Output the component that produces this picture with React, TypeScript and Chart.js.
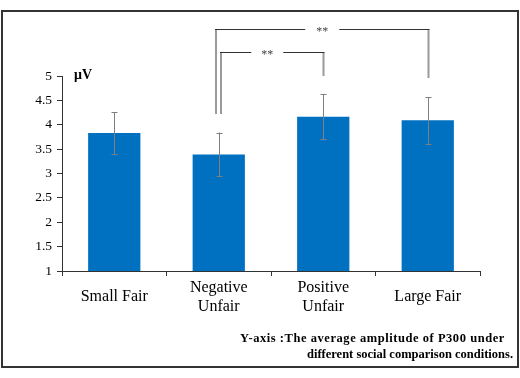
import React, { useEffect, useRef } from "react";
import { Chart, registerables } from "chart.js";

Chart.register(...registerables);

const categories: (string | string[])[] = ["Small Fair", ["Negative", "Unfair"], ["Positive", "Unfair"], "Large Fair"];
const meanAmplitude = [3.83, 3.39, 4.165, 4.09];
const errorValues = [0.43, 0.45, 0.46, 0.48];
const yTickMin = 1;
const yTickMax = 5;
const yTickStep = 0.5;
const yUnit = "μV";
// significance brackets
const bracketFrom = [1, 1];
const bracketTo = [2, 3];
const bracketTop = [5.49, 5.96];
const bracketLeftBottom = [4.22, 4.22];
const bracketRightBottom = [5.0, 4.96];
const bracketLabels = ["**", "**"];
const captionLines = ["Y-axis :The average amplitude of P300 under", "different social comparison conditions."];

const SERIF = '"Liberation Serif", "Times New Roman", serif';

const overlayPlugin = {
  id: "overlay",
  afterDatasetsDraw(chart: any) {
    const { ctx } = chart;
    const x = chart.scales.x;
    const y = chart.scales.y;
    ctx.save();
    // error bars
    ctx.strokeStyle = "#7f7f7f";
    ctx.lineWidth = 1;
    meanAmplitude.forEach((v, i) => {
      const px = Math.round(x.getPixelForValue(i)) + 0.5;
      const top = y.getPixelForValue(v + errorValues[i]);
      const bot = y.getPixelForValue(v - errorValues[i]);
      ctx.beginPath();
      ctx.moveTo(px, top);
      ctx.lineTo(px, bot);
      ctx.moveTo(px - 3, Math.round(top) + 0.5);
      ctx.lineTo(px + 3, Math.round(top) + 0.5);
      ctx.moveTo(px - 3, Math.round(bot) + 0.5);
      ctx.lineTo(px + 3, Math.round(bot) + 0.5);
      ctx.stroke();
    });
    // brackets
    bracketFrom.forEach((from, k) => {
      const offsetLeft = k === 0 ? 2 : -3;
      const x1 = Math.round(x.getPixelForValue(from)) + offsetLeft;
      const x2 = Math.round(x.getPixelForValue(bracketTo[k])) + 0.5;
      const yt = Math.round(y.getPixelForValue(bracketTop[k])) + 0.5;
      const yl = y.getPixelForValue(bracketLeftBottom[k]);
      const yr = y.getPixelForValue(bracketRightBottom[k]);
      const labelX = (x1 + x2) / 2 + (k === 0 ? -5 : 0);
      const gap = k === 0 ? 16 : 17;
      ctx.strokeStyle = "#9a9a9a";
      ctx.lineWidth = 2;
      ctx.beginPath();
      ctx.moveTo(x1, yt);
      ctx.lineTo(x1, yl);
      ctx.moveTo(x2, yt);
      ctx.lineTo(x2, yr);
      ctx.stroke();
      ctx.strokeStyle = "#333";
      ctx.lineWidth = 1;
      ctx.beginPath();
      ctx.moveTo(x1 - 1, yt);
      ctx.lineTo(labelX - gap, yt);
      ctx.moveTo(labelX + gap, yt);
      ctx.lineTo(x2 + 1, yt);
      ctx.stroke();
      ctx.fillStyle = "#444";
      ctx.font = `12px ${SERIF}`;
      ctx.textAlign = "center";
      ctx.textBaseline = "middle";
      ctx.fillText(bracketLabels[k], labelX, yt + 2);
    });
    // unit label
    ctx.fillStyle = "#000";
    ctx.font = `bold 14px ${SERIF}`;
    ctx.textAlign = "left";
    ctx.textBaseline = "alphabetic";
    ctx.fillText(yUnit, x.left + 12, y.top + 3);
    // caption
    ctx.font = `bold 12.5px ${SERIF}`;
    (ctx as any).letterSpacing = "0.55px";
    ctx.textAlign = "left";
    ctx.fillText(captionLines[0], 240, 342);
    (ctx as any).letterSpacing = "0px";
    ctx.textAlign = "right";
    ctx.fillText(captionLines[1], 513, 358);
    // frame
    ctx.strokeStyle = "#333";
    ctx.lineWidth = 2;
    ctx.strokeRect(2, 11, 516, 356);
    ctx.restore();
  },
};

export default function App() {
  const ref = useRef<HTMLCanvasElement | null>(null);
  useEffect(() => {
    if (!ref.current) return;
    const chart = new Chart(ref.current, {
      type: "bar",
      data: {
        labels: categories,
        datasets: [
          {
            data: meanAmplitude,
            backgroundColor: "#0070C0",
            borderWidth: 0,
            barPercentage: 0.5,
            categoryPercentage: 1,
          },
        ],
      },
      options: {
        responsive: false,
        animation: false,
        devicePixelRatio: 1,
        layout: { padding: { left: 0, top: 76, right: 40, bottom: 0 } },
        plugins: { legend: { display: false }, tooltip: { enabled: false } },
        scales: {
          x: {
            grid: { drawOnChartArea: false, drawTicks: true, tickLength: 5, color: "#333" },
            border: { color: "#333", width: 1 },
            ticks: {
              color: "#000",
              font: { family: SERIF, size: 16, lineHeight: 1.15 },
              padding: 12,
              crossAlign: "center",
              maxRotation: 0,
            },
            afterFit: (s: any) => {
              s.height = 107;
            },
          },
          y: {
            min: yTickMin,
            max: yTickMax,
            grid: { drawOnChartArea: false, drawTicks: true, tickLength: 5, color: "#333" },
            border: { color: "#333", width: 1 },
            ticks: {
              stepSize: yTickStep,
              color: "#000",
              font: { family: SERIF, size: 13.5 },
              padding: 5,
              callback: (v: any) => String(v),
            },
            afterFit: (s: any) => {
              s.width = 62;
            },
          },
        },
      },
      plugins: [overlayPlugin],
    });
    return () => chart.destroy();
  }, []);
  return (
    <div style={{ position: "fixed", left: 0, top: 0, width: 520, height: 378, background: "#fff" }}>
      <canvas ref={ref} width={520} height={378} style={{ width: 520, height: 378, display: "block" }} />
    </div>
  );
}
